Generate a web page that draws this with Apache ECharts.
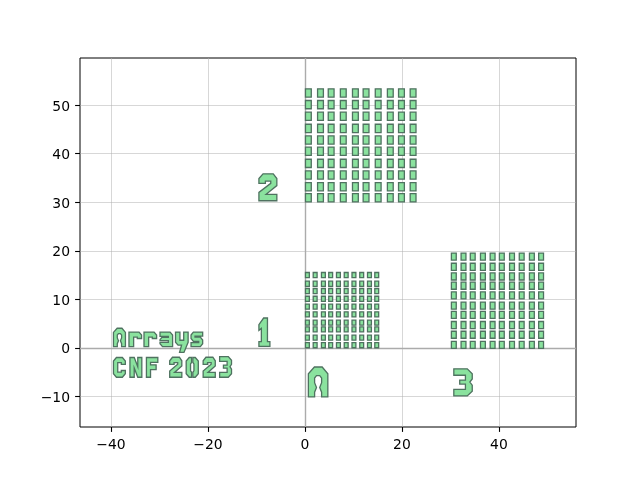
<!DOCTYPE html>
<html><head><meta charset="utf-8">
<style>html,body{margin:0;padding:0;background:#fff}#c{width:640px;height:480px}</style>
<script src="https://cdn.jsdelivr.net/npm/echarts@6/dist/echarts.min.js"></script>
</head><body><div id="c"></div>
<script>
// Array cell centres, in data units
const xTicks = [-40,-20,0,20,40];
const yTicks = [-10,0,10,20,30,40,50];
const array1X = [0.5,2.1,3.8,5.3,6.9,8.5,10.1,11.7,13.3,14.8];
const array1Y = [15.0,13.2,11.7,10.1,8.5,6.9,5.2,3.8,2.1,0.55];
const array1Size = [0.8,1.05];
const array2X = [0.7,3.2,5.4,7.9,10.4,12.6,15.1,17.6,19.9,22.3];
const array2Y = [52.5,50.1,47.7,45.2,42.8,40.5,38.0,35.6,33.2,30.9];
const array2Size = [1.2,1.7];
const array3X = [30.7,32.7,34.6,36.7,38.7,40.6,42.7,44.7,46.8,48.7];
const array3Y = [18.8,16.7,14.7,12.8,10.8,8.7,6.8,4.7,2.7,0.6];
const array3Size = [1.0,1.45];

// Stencil letter outlines, local units
const glyphs = {
  '1': [[[0,0],[6.3,0],[6.3,2.5],[4.9,2.5],[4.9,15],[2.7,15],[0,11.5],[0,8.5],[1.4,9.5],[1.4,2.5],[0,2.5]]],
  '2': [[[2.3,14.2],[8,14.2],[10,11.7],[10,8],[4,3.4],[10,3.4],[10,0],[0,0],[0,4.4],[6.6,9.2],[6.6,10.4],[3.6,10.4],[3.6,9.2],[0,9.2],[0,11.7]]],
  '3': [[[0,14.7],[7.3,14.7],[10,12],[10,9.2],[8.7,7.5],[10,5.8],[10,2.5],[7.3,0],[0,0],[0,3.5],[6.3,3.5],[6.3,6.4],[3.2,6.4],[3.2,8.6],[6.3,8.6],[6.3,11.2],[0,11.2]]],
  '0': [[[2.5,14],[4.5,14],[4.5,10.5],[3.6,9.5],[3.6,4.5],[4.5,3.5],[4.5,0],[2.5,0],[0,2.5],[0,11.5]],
        [[7.5,14],[5.5,14],[5.5,10.5],[6.4,9.5],[6.4,4.5],[5.5,3.5],[5.5,0],[7.5,0],[10,2.5],[10,11.5]]],
  'A': [[[0,0],[0,12.2],[3.2,15.8],[7.3,15.8],[10.3,12.2],[10.3,0],[7,0],[7,2.5],[6,5],[7,7.5],[7,10],[6,11.2],[4.3,11.2],[3.3,10],[3.3,7.5],[4.3,5],[3.3,2.5],[3.3,0]]],
  'C': [[[2.5,14],[7.5,14],[10,11.5],[10,9.2],[6.6,9.2],[6.6,10.4],[3.6,10.4],[3.6,3.6],[6.6,3.6],[6.6,4.8],[10,4.8],[10,2.5],[7.5,0],[2.5,0],[0,2.5],[0,11.5]]],
  'N': [[[0,0],[0,14],[3.6,14],[6.6,7.5],[6.6,14],[10,14],[10,0],[6.6,0],[3.6,6.5],[3.6,0]]],
  'F': [[[0,0],[0,14],[10,14],[10,10.6],[3.6,10.6],[3.6,8.8],[8.5,8.8],[8.5,5.4],[3.6,5.4],[3.6,0]]],
  'r': [[[0,0],[0,10],[8,10],[10,8],[10,5.6],[6.6,5.6],[6.6,6.6],[3.7,6.6],[3.7,0]]],
  'a': [[[0,10],[8,10],[10,8],[10,0],[2,0],[0,2],[0,3],[6.6,3],[6.6,4.1],[0,4.1],[0,4.8],[1.5,6.4],[6.6,6.4],[6.6,7],[0,7]]],
  'y': [[[0,10],[3.5,10],[3.5,4.4],[6.5,4.4],[6.5,10],[10,10],[10,3],[6.7,-4],[3.2,-4],[4.8,1],[2,1],[0,3]]],
  's': [[[2,10],[10,10],[10,7.2],[3.4,7.2],[3.4,6.6],[8,6.6],[10,4.5],[10,2],[8,0],[0,0],[0,2.8],[6.6,2.8],[6.6,3.6],[2,3.6],[0,5.6],[0,8]]]
};
// Placed letters: glyph, x, y, x scale, y scale (data units)
const letters = [
  ['2',-9.5,30.3,0.37,0.39],
  ['1',-9.5,0.3,0.36,0.39],
  ['A',0.7,-10.1,0.39,0.39],
  ['3',30.7,-9.9,0.38,0.38],
  ['A',-39.5,0.25,0.24,0.24],
  ['r',-36.3,0.25,0.26,0.3],
  ['r',-33.2,0.25,0.26,0.3],
  ['a',-29.9,0.25,0.26,0.3],
  ['y',-26.7,0.25,0.26,0.3],
  ['s',-23.5,0.25,0.24,0.3],
  ['C',-39.5,-6.05,0.245,0.29],
  ['N',-36.1,-6.05,0.245,0.29],
  ['F',-32.7,-6.05,0.235,0.29],
  ['2',-27.9,-6.05,0.25,0.29],
  ['0',-24.5,-6.05,0.25,0.29],
  ['2',-21.0,-6.05,0.25,0.29],
  ['3',-17.6,-6.05,0.245,0.29]
];

const polygons = [];
function addArray(xs, ys, size) {
  ys.forEach(y => xs.forEach(x => polygons.push([
    [x-size[0]/2,y-size[1]/2],[x+size[0]/2,y-size[1]/2],
    [x+size[0]/2,y+size[1]/2],[x-size[0]/2,y+size[1]/2]])));
}
addArray(array1X,array1Y,array1Size);
addArray(array2X,array2Y,array2Size);
addArray(array3X,array3Y,array3Size);
letters.forEach(([g,x0,y0,sx,sy]) => glyphs[g].forEach(p =>
  polygons.push(p.map(([u,v]) => [x0+u*sx, y0+v*sy]))));

const chart = echarts.init(document.getElementById('c'), null, {renderer:'canvas'});
const minus = v => String(v).replace('-','\u2212');
const font = {color:'#000',fontSize:13.9,fontFamily:'DejaVu Sans'};
const axisCommon = {
  splitLine:{show:true,lineStyle:{color:'rgba(176,176,176,0.5)',width:1}}
};
const tick = vals => ({show:true,length:4.9,customValues:vals,lineStyle:{color:'#000',width:1.1}});
const line = {show:false,onZero:false};
chart.setOption({
  animation:false,
  grid:{left:80,right:64,top:58,bottom:53,show:true,borderColor:'#000',borderWidth:1,backgroundColor:'transparent',containLabel:false},
  xAxis:Object.assign({type:'value',position:'bottom',min:-46.4,max:55.9,interval:20,axisLine:line,axisTick:tick(xTicks),
    axisLabel:Object.assign({margin:11,customValues:xTicks,formatter:minus},font)},axisCommon),
  yAxis:Object.assign({type:'value',position:'left',min:-16.3,max:59.7,interval:10,axisLine:line,axisTick:tick(yTicks),
    axisLabel:Object.assign({margin:10,customValues:yTicks,formatter:v=>'{t|'+minus(v)+'}',
      rich:{t:Object.assign({padding:[4,0,0,0]},font)}},font)},axisCommon),
  series:[{
    type:'custom',coordinateSystem:'cartesian2d',clip:true,silent:true,z:3,
    data:polygons.map((p,i)=>[i]),
    encode:{x:[],y:[]},
    renderItem:(params,api)=>({
      type:'polygon',
      shape:{points:polygons[api.value(0)].map(pt=>api.coord(pt))},
      style:{fill:'rgba(128,224,150,0.92)',stroke:'#4f7260',lineWidth:1.3}
    }),
    markLine:{silent:true,symbol:'none',label:{show:false},z:1,
      lineStyle:{color:'#ababab',width:1.4,type:'solid'},
      data:[{xAxis:0},{yAxis:0}]}
  }]
});
</script></body></html>
